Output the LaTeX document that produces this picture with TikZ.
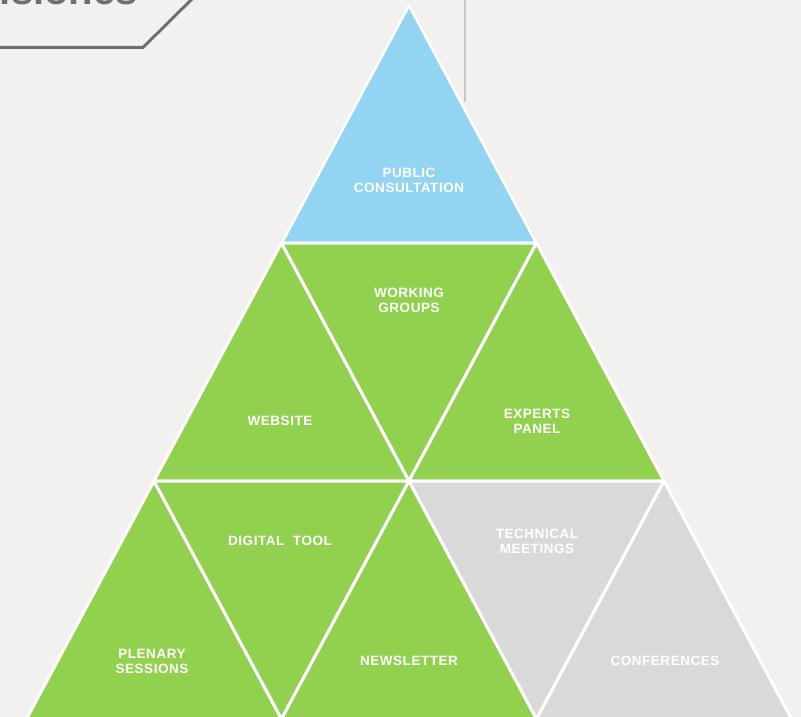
\documentclass[tikz,border=0pt]{standalone}
\usepackage{fontspec}
\setmainfont{Liberation Sans}
\newfontfamily\lblfont[LetterSpace=4]{Liberation Sans}
\definecolor{bgcol}{HTML}{F2F1EF}
\definecolor{tgreen}{HTML}{92D050}
\definecolor{tblue}{HTML}{93D4F2}
\definecolor{tgray}{HTML}{D9D9D9}
\definecolor{framecol}{HTML}{6B7171}
\tikzset{
    tri/.style = {draw=white, line width=3pt, line join=round},
    lbl/.style = {text=white, align=center, font=\lblfont\bfseries\fontsize{13.5}{15}\selectfont}
}

\begin{document}
\begin{tikzpicture}[x=1pt, y=-1pt]
        \fill[bgcol] (0,0) rectangle (801,717);
        \clip (0,0) rectangle (801,717);
        % title frame
        \draw[framecol, line width=3pt] (-5,47.5) -- (143,47.5) -- (196,-5);
        \node[anchor=base east, text=framecol, font=\bfseries\fontsize{40}{40}\selectfont, inner sep=0] (title) at (138,5) {isiones};
        \draw[black!22, line width=1.5pt] (465,0) -- (465,102);
        % top row
        \fill[tri, tblue] (409,5) -- (281.5,243) -- (536.5,243) -- cycle;
        \draw[tri] (409,5) -- (281.5,243) -- (536.5,243) -- cycle;
        % middle row
        \filldraw[tri, fill=tgreen] (281.5,243) -- (154,481) -- (409,481) -- cycle;
        \filldraw[tri, fill=tgreen] (281.5,243) -- (536.5,243) -- (409,481) -- cycle;
        \filldraw[tri, fill=tgreen] (536.5,243) -- (409,481) -- (664,481) -- cycle;
        % bottom row
        \filldraw[tri, fill=tgreen] (154,481) -- (26.5,719) -- (281.5,719) -- cycle;
        \filldraw[tri, fill=tgreen] (154,481) -- (409,481) -- (281.5,719) -- cycle;
        \filldraw[tri, fill=tgreen] (409,481) -- (281.5,719) -- (536.5,719) -- cycle;
        \filldraw[tri, fill=tgray] (409,481) -- (664,481) -- (536.5,719) -- cycle;
        \filldraw[tri, fill=tgray] (664,481) -- (536.5,719) -- (791.5,719) -- cycle;
        % labels
        \node[lbl] (public) at (409,180) {PUBLIC\\CONSULTATION};
        \node[lbl] (working) at (409,300) {WORKING\\GROUPS};
        \node[lbl] (website) at (280,421) {WEBSITE};
        \node[lbl] (experts) at (537,421) {EXPERTS\\PANEL};
        \node[lbl] (digital) at (280,541) {DIGITAL\ \ TOOL};
        \node[lbl] (technical) at (537,541) {TECHNICAL\\MEETINGS};
        \node[lbl] (plenary) at (152,661) {PLENARY\\SESSIONS};
        \node[lbl] (newsletter) at (409,661) {NEWSLETTER};
        \node[lbl] (conferences) at (665,661) {CONFERENCES};
    \end{tikzpicture}
\end{document}
